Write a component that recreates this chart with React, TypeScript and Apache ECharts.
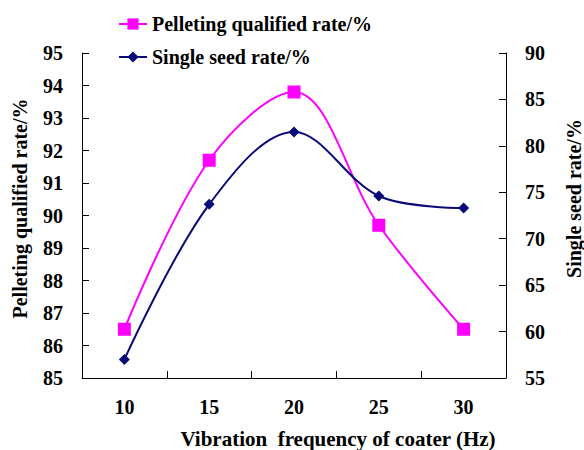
import React, { useEffect, useRef } from "react";
import * as echarts from "echarts";

const categories = ["10", "15", "20", "25", "30"];
const pelletingRate = [86.5, 91.7, 93.8, 89.7, 86.5];
const singleSeedRate = [57.0, 73.7, 81.5, 74.6, 73.3];
const leftTicks = { min: 85, max: 95, interval: 1 };
const rightTicks = { min: 55, max: 90, interval: 5 };

const FONT = "Times New Roman, Liberation Serif, serif";

export default function App() {
  const ref = useRef<HTMLDivElement>(null);
  useEffect(() => {
    if (!ref.current) return;
    document.body.style.margin = "0";
    const chart = echarts.init(ref.current, undefined, { renderer: "svg" });
    const axisText = { fontFamily: FONT, fontWeight: "bold" as const, fontSize: 20, color: "#000" };
    chart.setOption({
      animation: false,
      backgroundColor: "#fff",
      textStyle: { fontFamily: FONT },
      grid: { left: 82, right: 78, top: 53, bottom: 72, containLabel: false, outerBoundsMode: "none" },
      legend: {
        orient: "vertical",
        left: 113,
        top: 9,
        itemGap: 13,
        itemWidth: 28,
        itemHeight: 14,
        textStyle: { fontFamily: FONT, fontWeight: "bold", fontSize: 20, color: "#000" },
        data: ["Pelleting qualified rate/%", "Single seed rate/%"],
      },
      xAxis: {
        type: "category",
        data: categories,
        boundaryGap: true,
        axisLine: { show: true, lineStyle: { color: "#000", width: 1 } },
        axisTick: { show: true, inside: true, length: 7, alignWithLabel: false, lineStyle: { color: "#000" } },
        axisLabel: { ...axisText, margin: 19 },
        splitLine: { show: false },
        name: "Vibration  frequency of coater (Hz)",
        nameLocation: "middle",
        nameGap: 50,
        nameTextStyle: { ...axisText, fontSize: 21, padding: [0, 0, 0, 88] },
      },
      yAxis: [
        {
          type: "value",
          position: "left",
          min: leftTicks.min,
          max: leftTicks.max,
          interval: leftTicks.interval,
          axisLine: { show: true, lineStyle: { color: "#000", width: 1 } },
          axisTick: { show: true, inside: true, length: 7, lineStyle: { color: "#000" } },
          axisLabel: { ...axisText, margin: 19 },
          splitLine: { show: false },
          name: "Pelleting qualified rate/%",
          nameLocation: "middle",
          nameRotate: 90,
          nameGap: 52,
          nameTextStyle: { ...axisText, padding: [0, 0, 0, 14] },
        },
        {
          type: "value",
          position: "right",
          min: rightTicks.min,
          max: rightTicks.max,
          interval: rightTicks.interval,
          axisLine: { show: true, lineStyle: { color: "#000", width: 1 } },
          axisTick: { show: true, inside: true, length: 7, lineStyle: { color: "#000" } },
          axisLabel: { ...axisText, margin: 19 },
          splitLine: { show: false },
          name: "Single seed rate/%",
          nameLocation: "middle",
          nameRotate: 90,
          nameGap: 58,
          nameTextStyle: { ...axisText, padding: [0, 0, 0, 34] },
        },
      ],
      series: [
        {
          name: "Pelleting qualified rate/%",
          type: "line",
          yAxisIndex: 0,
          data: pelletingRate,
          smooth: 0.35,
          symbol: "rect",
          symbolSize: 13,
          lineStyle: { color: "#ff00ff", width: 2 },
          itemStyle: { color: "#ff00ff" },
        },
        {
          name: "Single seed rate/%",
          type: "line",
          yAxisIndex: 1,
          data: singleSeedRate,
          smooth: 0.35,
          symbol: "diamond",
          symbolSize: 11,
          lineStyle: { color: "#0a0a78", width: 2 },
          itemStyle: { color: "#0a0a78" },
        },
      ],
    });
    return () => chart.dispose();
  }, []);
  return <div ref={ref} style={{ width: 584, height: 450 }} />;
}
